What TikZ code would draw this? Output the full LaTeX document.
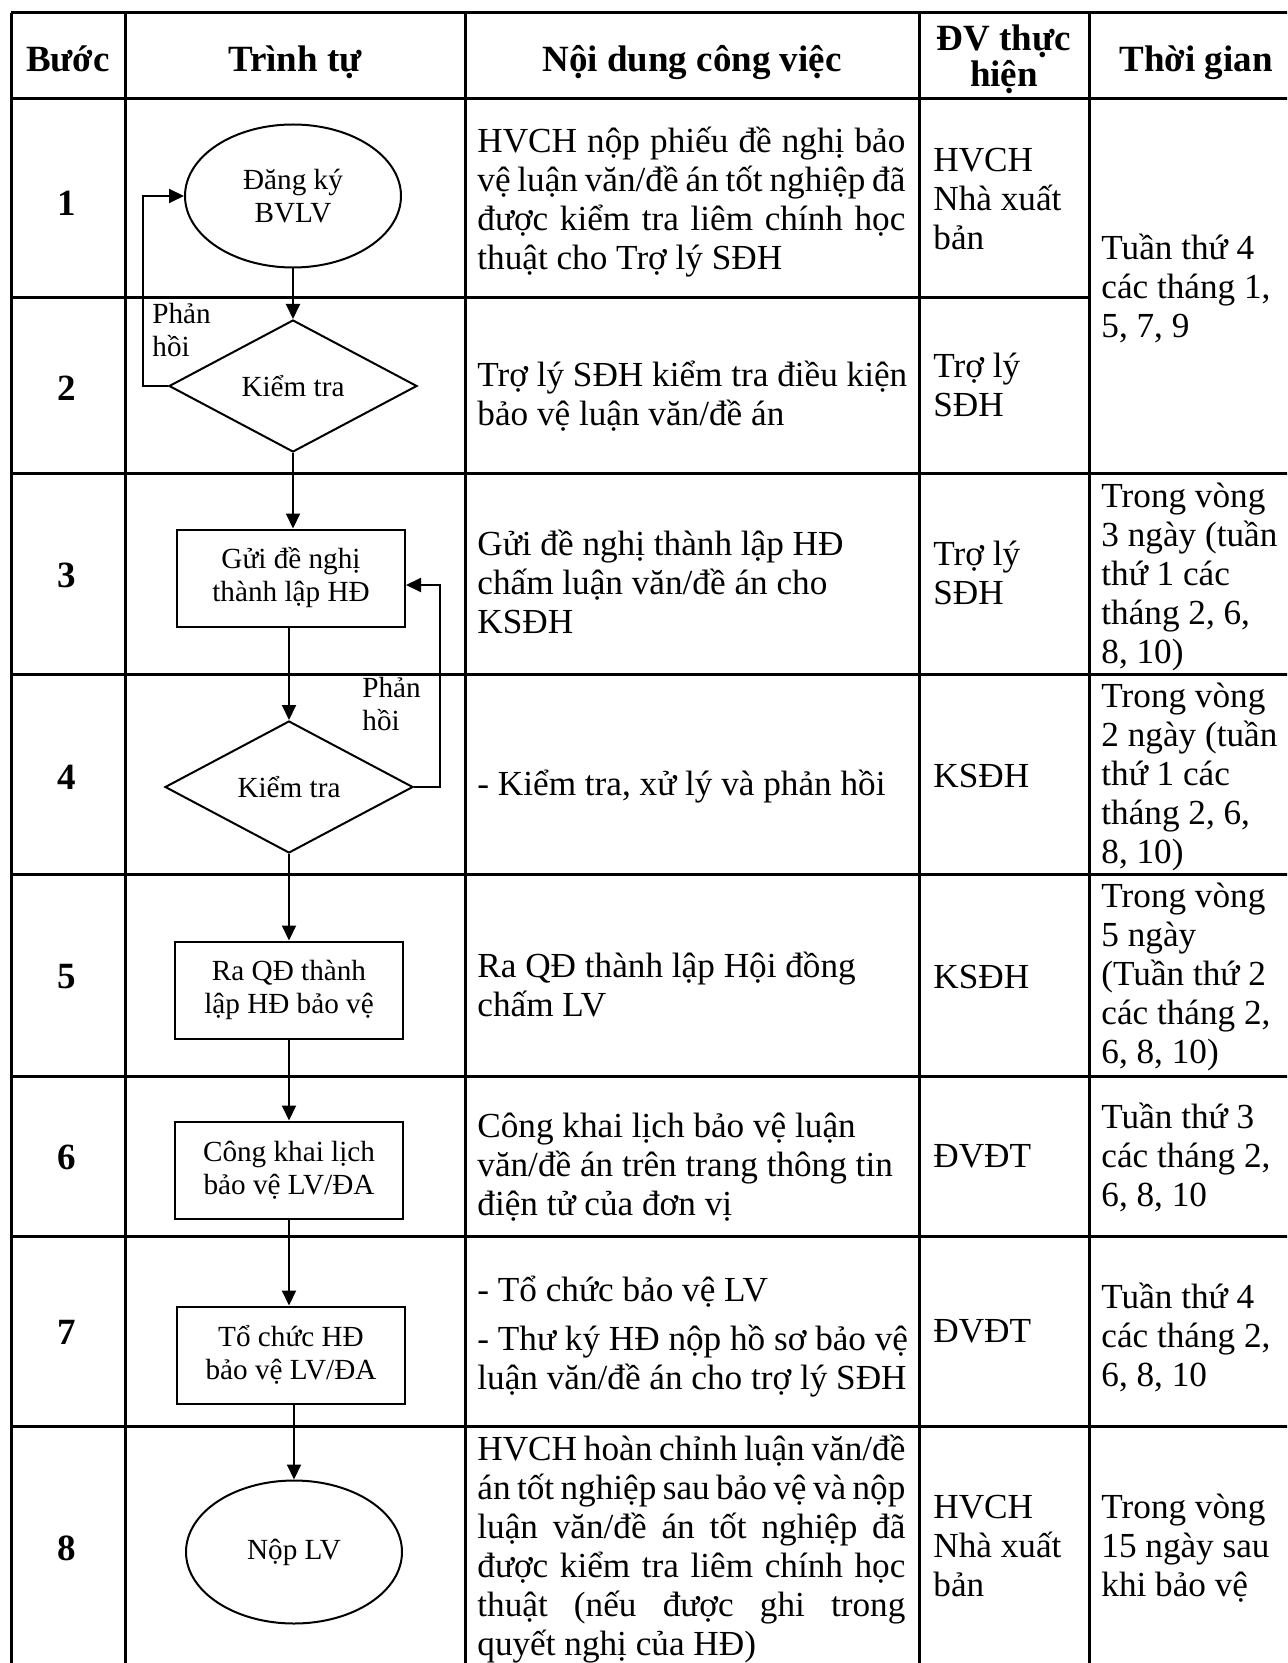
\documentclass[tikz,border=0pt]{standalone}
\usepackage{fontspec}
\setmainfont{Liberation Serif}
\usetikzlibrary{shapes.geometric,arrows.meta}

\newlength{\du}
\setlength{\du}{0.5pt}

\newcommand{\bodyfont}{\fontsize{17.6}{19.5}\selectfont}
\newcommand{\flowfont}{\fontsize{14.6}{16.5}\selectfont}
\newcommand{\headfont}{\fontsize{18.5}{18}\selectfont\bfseries}
\newcommand{\justline}[1]{\makebox[214pt][s]{#1}}

\tikzset{
  tabline/.style={line width=1.5pt},
  cell/.style={anchor=base west, align=left, inner sep=0pt, font=\bodyfont},
  headcell/.style={anchor=base, align=center, inner sep=0pt, font=\headfont},
  stepno/.style={inner sep=0pt, font=\headfont},
  startstop/.style={ellipse, draw, line width=1pt, minimum width=216\du, minimum height=143\du, align=center, inner sep=0pt, font=\flowfont},
  process/.style={rectangle, draw, line width=1pt, minimum width=228\du, minimum height=97\du, align=center, inner sep=0pt, font=\flowfont},
  decision/.style={diamond, draw, line width=1pt, minimum width=248\du, minimum height=132\du, aspect=1.88, inner sep=0pt, font=\flowfont},
  flow/.style={line width=1pt, -{Triangle[length=7.5pt,width=7pt]}},
  fbnote/.style={anchor=base west, align=left, inner sep=0pt, font=\flowfont},
}

\begin{document}
\begin{tikzpicture}
\pgftransformxscale{1.000000}
\pgftransformyscale{-1.000000}
\definecolor{dialinecolor}{rgb}{0.000000, 0.000000, 0.000000}
\pgfsetstrokecolor{dialinecolor}
\useasboundingbox (0\du,0\du) rectangle (1287\du,1663\du);
\clip (0\du,0\du) rectangle (1287\du,1663\du);
% table frame
\draw[tabline] (11\du,13\du)--(1300\du,13\du);
\draw[tabline] (11\du,99\du)--(1300\du,99\du);
\draw[tabline] (11\du,298\du)--(1089\du,298\du);
\draw[tabline] (11\du,473\du)--(1300\du,473\du);
\draw[tabline] (11\du,674\du)--(1300\du,674\du);
\draw[tabline] (11\du,874\du)--(1300\du,874\du);
\draw[tabline] (11\du,1076\du)--(1300\du,1076\du);
\draw[tabline] (11\du,1236\du)--(1300\du,1236\du);
\draw[tabline] (11\du,1426\du)--(1300\du,1426\du);
\draw[tabline] (11\du,13\du)--(11\du,1670\du);
\draw[tabline] (125\du,13\du)--(125\du,1670\du);
\draw[tabline] (465\du,13\du)--(465\du,1670\du);
\draw[tabline] (919\du,13\du)--(919\du,1670\du);
\draw[tabline] (1089\du,13\du)--(1089\du,1670\du);
\draw[tabline] (1300\du,13\du)--(1300\du,1670\du);
% setfont left to latex
\node[headcell] (hbuoc) at (68\du,72\du){Bước};
\node[headcell] (htrinhtu) at (295\du,72\du){Trình tự};
\node[headcell] (hnoidung) at (692\du,72\du){Nội dung công việc};
\node[headcell] (hdonvi) at (1004\du,87\du){ĐV thực\\hiện};
\node[headcell] (hthoigian) at (1196\du,72\du){Thời gian};
% setfont left to latex
\node[stepno] (s1) at (67\du,203\du){1};
\node[stepno] (s2) at (67\du,388\du){2};
\node[stepno] (s3) at (67\du,575\du){3};
\node[stepno] (s4) at (67\du,777\du){4};
\node[stepno] (s5) at (67\du,977\du){5};
\node[stepno] (s6) at (67\du,1157\du){6};
\node[stepno] (s7) at (67\du,1332\du){7};
\node[stepno] (s8) at (67\du,1548\du){8};
% flow chart
\node[startstop] (dangky) at (293\du,196\du){Đăng ký\\BVLV};
\node[decision] (kiemtra1) at (293\du,386\du){Kiểm tra};
\node[process] (guidenghi) at (291\du,578\du){Gửi đề nghị\\thành lập HĐ};
\node[decision] (kiemtra2) at (289\du,787\du){Kiểm tra};
\node[process] (raqd) at (289\du,990\du){Ra QĐ thành\\lập HĐ bảo vệ};
\node[process] (congkhai) at (289\du,1170\du){Công khai lịch\\bảo vệ LV/ĐA};
\node[process] (tochuc) at (291\du,1355\du){Tổ chức HĐ\\bảo vệ LV/ĐA};
\node[startstop] (noplv) at (294\du,1552\du){Nộp LV};
\coordinate (phanhoi1) at (143\du,196\du);
\coordinate (phanhoi2) at (440\du,585\du);
\draw[flow] (dangky.south)--(kiemtra1.north);
\draw[flow] (kiemtra1.south)--(kiemtra1.south |- guidenghi.north);
\draw[flow] (guidenghi.south -| kiemtra2.north)--(kiemtra2.north);
\draw[flow] (kiemtra2.south)--(kiemtra2.south |- raqd.north);
\draw[flow] (raqd.south)--(raqd.south |- congkhai.north);
\draw[flow] (congkhai.south)--(congkhai.south |- tochuc.north);
\draw[flow] (tochuc.south -| noplv.north)--(noplv.north);
\draw[flow] (kiemtra1.west) -| (phanhoi1)--(dangky.west);
\draw[flow] (kiemtra2.east) -| (phanhoi2)--(phanhoi2 -| guidenghi.east);
\node[fbnote] (lbphanhoi1) at (152\du,357\du){Phản\\hồi};
\node[fbnote] (lbphanhoi2) at (362\du,730\du){Phản\\hồi};
% setfont left to latex
\node[cell] (nd1) at (477\du,270\du){\justline{HVCH nộp phiếu đề nghị bảo}\\\justline{vệ luận văn/đề án tốt nghiệp đã}\\\justline{được kiểm tra liêm chính học}\\thuật cho Trợ lý SĐH};
\node[cell] (nd2) at (477\du,426\du){Trợ lý SĐH kiểm tra điều kiện\\bảo vệ luận văn/đề án};
\node[cell] (nd3) at (477\du,633\du){Gửi đề nghị thành lập HĐ\\chấm luận văn/đề án cho\\KSĐH};
\node[cell] (nd4) at (477\du,795\du){- Kiểm tra, xử lý và phản hồi};
\node[cell] (nd5) at (477\du,1016\du){Ra QĐ thành lập Hội đồng\\chấm LV};
\node[cell] (nd6) at (477\du,1215\du){Công khai lịch bảo vệ luận\\văn/đề án trên trang thông tin\\điện tử của đơn vị};
\node[cell] (nd7) at (477\du,1389\du){- Tổ chức bảo vệ LV\\[5pt]- Thư ký HĐ nộp hồ sơ bảo vệ\\luận văn/đề án cho trợ lý SĐH};
\node[cell] (nd8) at (477\du,1655\du){\justline{HVCH hoàn chỉnh luận văn/đề}\\\justline{án tốt nghiệp sau bảo vệ và nộp}\\\justline{luận văn/đề án tốt nghiệp đã}\\\justline{được kiểm tra liêm chính học}\\\justline{thuật (nếu được ghi trong}\\quyết nghị của HĐ)};
% setfont left to latex
\node[cell] (dv1) at (933\du,250\du){HVCH\\Nhà xuất\\bản};
\node[cell] (dv2) at (933\du,417\du){Trợ lý\\SĐH};
\node[cell] (dv3) at (933\du,604\du){Trợ lý\\SĐH};
\node[cell] (dv4) at (933\du,787\du){KSĐH};
\node[cell] (dv5) at (933\du,988\du){KSĐH};
\node[cell] (dv6) at (933\du,1167\du){ĐVĐT};
\node[cell] (dv7) at (933\du,1342\du){ĐVĐT};
\node[cell] (dv8) at (933\du,1596\du){HVCH\\Nhà xuất\\bản};
% setfont left to latex
\node[cell] (tg12) at (1101\du,338\du){Tuần thứ 4\\các tháng 1,\\5, 7, 9};
\node[cell] (tg3) at (1101\du,663\du){Trong vòng\\3 ngày (tuần\\thứ 1 các\\tháng 2, 6,\\8, 10)};
\node[cell] (tg4) at (1101\du,863\du){Trong vòng\\2 ngày (tuần\\thứ 1 các\\tháng 2, 6,\\8, 10)};
\node[cell] (tg5) at (1101\du,1063\du){Trong vòng\\5 ngày\\(Tuần thứ 2\\các tháng 2,\\6, 8, 10)};
\node[cell] (tg6) at (1101\du,1206\du){Tuần thứ 3\\các tháng 2,\\6, 8, 10};
\node[cell] (tg7) at (1101\du,1386\du){Tuần thứ 4\\các tháng 2,\\6, 8, 10};
\node[cell] (tg8) at (1101\du,1596\du){Trong vòng\\15 ngày sau\\khi bảo vệ};
\end{tikzpicture}
\end{document}
